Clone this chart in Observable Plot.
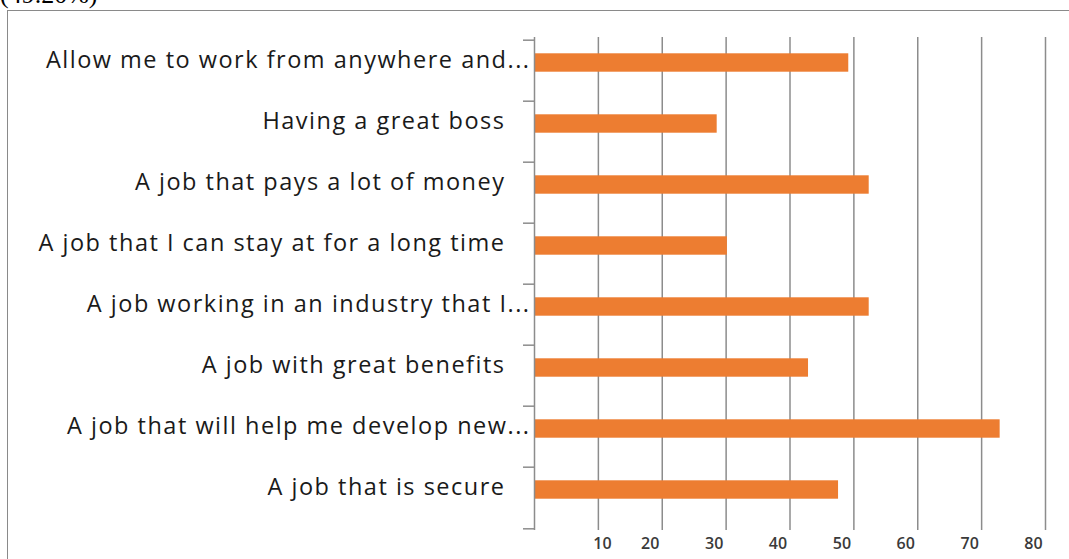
<!DOCTYPE html>
<html><head><meta charset="utf-8">
<script src="https://cdn.jsdelivr.net/npm/d3@7"></script>
<script src="https://cdn.jsdelivr.net/npm/@observablehq/plot@0.6"></script>
<style>
html,body{margin:0;padding:0;background:#fff;width:1069px;height:559px;overflow:hidden;position:relative}
#frame{position:absolute;left:7px;top:10px;width:1200px;height:700px;border:1.5px solid #8a8a8a;box-sizing:border-box}
#note{position:absolute;left:0;top:-18px;font-family:"Liberation Serif";font-size:26px;line-height:26px;color:#000;white-space:nowrap}
#chart{position:absolute;left:0;top:0}
#chart .ylab text{letter-spacing:1.5px}
#chart .xlab text{font-weight:600}
</style></head><body>
<div id="note">(49.20%)</div>
<div id="frame"></div>
<div id="chart"></div>
<script>
const categories = [
  "Allow me to work from anywhere and...",
  "Having a great boss",
  "A job that pays a lot of money",
  "A job that I can stay at for a long time",
  "A job working in an industry that I...",
  "A job with great benefits",
  "A job that will help me develop new...",
  "A job that is secure"
];
const values = [49.2, 28.6, 52.4, 30.2, 52.4, 42.9, 72.9, 47.6];
const xTicks = [10, 20, 30, 40, 50, 60, 70, 80];

const data = categories.map((c, i) => ({category: c, value: values[i]}));
const ellipsized = categories.filter(c => c.endsWith("..."));
const plain = categories.filter(c => !c.endsWith("..."));

const W = 1069, H = 559, mt = 37, mb = 29;
const band = (H - mt - mb) / categories.length;
const gray = "#8c8c8c";
const labelFont = {fontSize: 23.5, fill: "#1a1a1a", className: "ylab", label: null};
const tickFont = {fontSize: 16, fill: "#3a3a3a", fontFamily: "Open Sans", className: "xlab", label: null};

const chart = Plot.plot({
  width: W, height: H,
  marginLeft: 534, marginRight: 24, marginTop: mt, marginBottom: mb,
  style: {background: "transparent", fontFamily: "Open Sans"},
  x: {domain: [0, 80], axis: null},
  y: {domain: categories, padding: 0, axis: null},
  marks: [
    Plot.gridX(xTicks, {stroke: gray, strokeOpacity: 1, strokeWidth: 1.5}),
    Plot.barX(data, {y: "category", x: "value", fill: "#ED7D31", insetTop: 13.3, insetBottom: 29.3}),
    Plot.ruleX([0], {stroke: gray, strokeWidth: 1.5}),
    Plot.axisY({ticks: categories, tickSize: 11, tickFormat: () => "", label: null, dy: -band / 2, stroke: gray, strokeWidth: 1.5}),
    Plot.axisY({ticks: [categories[categories.length - 1]], tickSize: 11, tickFormat: () => "", label: null, dy: band / 2, stroke: gray, strokeWidth: 1.5}),
    Plot.axisY({ticks: plain, tickSize: 0, tickPadding: 29, dy: -11, ...labelFont}),
    Plot.axisY({ticks: ellipsized, tickSize: 0, tickPadding: 4, dy: -11, ...labelFont}),
    Plot.axisX({ticks: [xTicks[0]], tickSize: 0, tickPadding: 7, dx: 4, ...tickFont}),
    Plot.axisX({ticks: xTicks.slice(1), tickSize: 0, tickPadding: 7, dx: -12, ...tickFont})
  ]
});
document.getElementById("chart").appendChild(chart);
</script>
</body></html>
